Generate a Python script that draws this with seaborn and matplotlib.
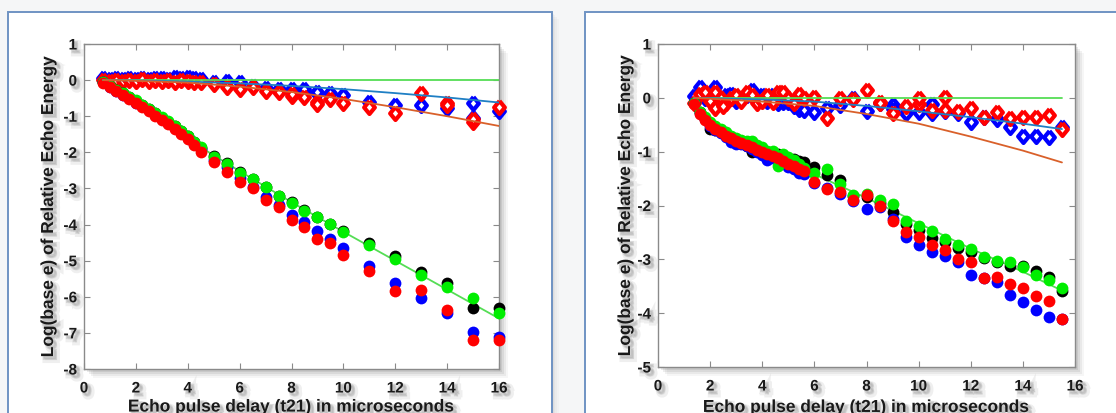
import numpy as np
import pandas as pd
import matplotlib
matplotlib.use("Agg")
import matplotlib.pyplot as plt
import matplotlib.patheffects as pe
from matplotlib.patches import Rectangle
from matplotlib.markers import MarkerStyle
import seaborn as sns

# ---------------- data: left panel ----------------
xL_dense = [0.75, 1.0, 1.25, 1.5, 1.75, 2.0, 2.25, 2.5, 2.75, 3.0, 3.25, 3.5, 3.75, 4.0, 4.25, 4.5]
xL_sparse = [5, 5.5, 6, 6.5, 7, 7.5, 8, 8.5, 9, 9.5, 10, 11, 12, 13, 14, 15, 16]

# decaying echoes (filled circles)
L_black = [-0.05, -0.16, -0.27, -0.37, -0.48, -0.58, -0.69, -0.80, -0.92, -1.04, -1.16, -1.28, -1.42, -1.56, -1.72, -1.88,
           -2.10, -2.30, -2.55, -2.73, -2.95, -3.20, -3.38, -3.60, -3.78, -3.98, -4.18, -4.50, -4.88, -5.31, -5.63, -6.30, -6.30]
L_blue = [-0.06, -0.18, -0.29, -0.40, -0.50, -0.62, -0.73, -0.84, -0.96, -1.08, -1.20, -1.33, -1.46, -1.60, -1.76, -1.92,
          -2.20, -2.40, -2.72, -2.95, -3.23, -3.45, -3.74, -3.92, -4.17, -4.39, -4.64, -5.14, -5.61, -6.03, -6.45, -6.97, -7.10]
L_green = [-0.05, -0.15, -0.26, -0.36, -0.46, -0.56, -0.68, -0.79, -0.90, -1.02, -1.14, -1.26, -1.40, -1.55, -1.70, -1.86,
           -2.12, -2.31, -2.57, -2.75, -2.97, -3.21, -3.40, -3.62, -3.79, -3.99, -4.20, -4.57, -4.96, -5.40, -5.73, -6.03, -6.44]
L_red = [-0.08, -0.20, -0.30, -0.40, -0.52, -0.63, -0.74, -0.86, -0.98, -1.10, -1.22, -1.36, -1.50, -1.64, -1.80, -1.98,
         -2.26, -2.54, -2.82, -3.00, -3.32, -3.51, -3.86, -4.06, -4.40, -4.52, -4.85, -5.28, -5.84, -5.80, -6.37, -7.20, -7.20]

# refocused echoes (diamonds)
L_blue_d = [0.05, 0.03, 0.06, 0.02, 0.05, 0.04, 0.06, 0.03, 0.05, 0.07, 0.04, 0.08, 0.05, 0.10, 0.06, 0.04,
            -0.06, -0.03, -0.06, -0.15, -0.22, -0.24, -0.24, -0.30, -0.36, -0.36, -0.42, -0.60, -0.68, -0.68, -0.78, -0.63, -0.85]
L_red_d = [0.00, -0.02, 0.01, -0.03, 0.00, -0.02, 0.02, -0.03, 0.00, -0.02, 0.01, -0.04, 0.00, -0.03, -0.05, -0.06,
           -0.10, -0.20, -0.25, -0.20, -0.30, -0.33, -0.44, -0.48, -0.60, -0.52, -0.64, -0.74, -0.90, -0.35, -0.62, -1.15, -0.74]
L_blue_d_extra_x = [8.5, 9, 15]
L_blue_d_extra = [-0.25, -0.32, -1.05]
L_red_d_extra_x = [8, 9, 14, 15]
L_red_d_extra = [-0.38, -0.67, -0.70, -1.08]

# fitted curves
L_fit_x = [0.75, 2, 4, 6, 8, 10, 12, 14, 16]
L_fit_flat = [0, 0, 0, 0, 0, 0, 0, 0, 0]
L_fit_blue = [0, -0.01, -0.04, -0.09, -0.16, -0.25, -0.36, -0.48, -0.62]
L_fit_orange = [0, -0.02, -0.07, -0.18, -0.33, -0.52, -0.75, -1.00, -1.27]
L_fit_decay_x = [0.75, 1.5, 2.5, 3.5, 4.5, 6, 8, 10, 12, 14, 16]
L_fit_decay = [-0.05, -0.36, -0.80, -1.30, -1.86, -2.52, -3.38, -4.20, -5.00, -5.80, -6.60]

# ---------------- data: right panel ----------------
xR_dense = [1.4, 1.6, 1.8, 2.0, 2.2, 2.4, 2.6, 2.8, 3.0, 3.2, 3.4, 3.6, 3.8, 4.0, 4.2, 4.4, 4.6, 4.8, 5.0, 5.2, 5.4, 5.6]
xR_sparse = [6, 6.5, 7, 7.5, 8, 8.5, 9, 9.5, 10, 10.5, 11, 11.5, 12, 12.5, 13, 13.5, 14, 14.5, 15, 15.5]

R_black = [-0.10, -0.27, -0.40, -0.58, -0.60, -0.64, -0.68, -0.72, -0.76, -0.82, -0.90, -1.00, -0.98, -1.02, -1.05, -1.06,
           -1.05, -1.10, -1.12, -1.13, -1.18, -1.20,
           -1.28, -1.44, -1.53, -1.82, -1.85, -1.95, -2.12, -2.35, -2.45, -2.60, -2.68, -2.79, -2.87, -2.97, -3.05, -3.12,
           -3.12, -3.22, -3.33, -3.58]
R_blue = [-0.10, -0.28, -0.40, -0.52, -0.60, -0.66, -0.73, -0.82, -0.85, -0.86, -0.90, -0.95, -1.00, -1.06, -1.16, -1.12,
          -1.15, -1.20, -1.28, -1.33, -1.40, -1.42,
          -1.58, -1.68, -1.78, -1.92, -2.07, -2.02, -2.25, -2.59, -2.73, -2.87, -2.93, -3.05, -3.30, -3.34, -3.43, -3.66,
          -3.80, -3.94, -4.07, -4.10]
R_green = [-0.10, -0.26, -0.36, -0.45, -0.52, -0.58, -0.64, -0.70, -0.74, -0.78, -0.80, -0.80, -0.88, -0.92, -0.98, -0.98,
           -1.27, -1.05, -1.10, -1.16, -1.22, -1.30,
           -1.40, -1.33, -1.60, -1.80, -1.79, -1.90, -1.98, -2.28, -2.39, -2.48, -2.62, -2.73, -2.80, -2.96, -3.03, -3.05,
           -3.15, -3.30, -3.38, -3.53]
R_red = [-0.12, -0.30, -0.42, -0.50, -0.57, -0.63, -0.70, -0.74, -0.80, -0.84, -0.88, -0.92, -0.96, -1.00, -1.04, -1.08,
         -1.12, -1.17, -1.22, -1.27, -1.32, -1.36,
         -1.56, -1.70, -1.75, -1.90, -1.81, -2.01, -2.28, -2.49, -2.58, -2.74, -2.82, -2.99, -3.05, -3.35, -3.32, -3.46,
         -3.53, -3.68, -3.77, -4.11]

R_blue_d = [0.03, 0.20, 0.00, 0.05, 0.20, 0.00, 0.05, 0.08, -0.05, 0.00, 0.05, 0.15, -0.05, 0.05, -0.05, 0.05,
            -0.10, -0.08, -0.08, -0.15, -0.20, -0.22,
            -0.27, -0.19, -0.13, 0.00, -0.24, -0.10, -0.13, -0.29, -0.27, -0.12, -0.25, -0.29, -0.44, -0.35, -0.40, -0.55,
            -0.71, -0.71, -0.72, -0.55]
R_red_d = [-0.10, 0.08, 0.10, -0.05, 0.10, 0.00, -0.10, 0.00, 0.05, -0.05, 0.10, 0.05, -0.10, -0.05, 0.05, -0.08,
           0.10, 0.10, 0.00, -0.10, 0.08, 0.00,
           0.01, -0.38, 0.00, -0.02, 0.14, -0.07, -0.29, -0.16, -0.11, -0.22, 0.01, -0.24, -0.19, -0.35, -0.26, -0.38,
           -0.35, -0.35, -0.32, -0.57]
R_blue_d_extra_x = [9, 10.5]
R_blue_d_extra = [-0.20, -0.29]
R_red_d_extra_x = [2.2, 2.5, 8.5, 10, 11]
R_red_d_extra = [-0.18, -0.15, -0.10, 0.00, -0.22]

R_fit_x = [1.4, 4, 6, 8, 10, 12, 14, 15.5]
R_fit_flat = [0, 0, 0, 0, 0, 0, 0, 0]
R_fit_blue = [0, -0.03, -0.07, -0.15, -0.25, -0.36, -0.48, -0.58]
R_fit_orange = [0, -0.07, -0.15, -0.30, -0.48, -0.72, -0.98, -1.20]
R_fit_decay_x = [1.4, 2, 3, 4, 5, 6, 8, 10, 12, 14, 15.5]
R_fit_decay = [-0.12, -0.50, -0.80, -1.00, -1.20, -1.42, -1.86, -2.33, -2.80, -3.23, -3.58]

x_ticks = [0, 2, 4, 6, 8, 10, 12, 14, 16]
L_yticks = [1, 0, -1, -2, -3, -4, -5, -6, -7, -8]
R_yticks = [1, 0, -1, -2, -3, -4, -5]

XLABEL = "Echo pulse delay (t21) in microseconds"
YLABEL = "Log(base e) of Relative Echo Energy"

# ---------------- style ----------------
sns.set_theme(style="white")
plt.rcParams['font.family'] = ['Liberation Sans', 'DejaVu Sans']
plt.rcParams['axes.unicode_minus'] = False

C_BLUE, C_RED, C_GREEN, C_BLACK = "#0000ff", "#ff0000", "#00ee00", "#000000"
C_FIT_GREEN, C_FIT_BLUE, C_FIT_ORANGE = "#55dd55", "#1f7fc4", "#d9602a"

# slightly tall diamond marker
DIAMOND = MarkerStyle(np.array([[0.0, 1.0], [0.82, 0.0], [0.0, -1.0], [-0.82, 0.0], [0.0, 1.0]]))

W, H = 1116, 414
fig = plt.figure(figsize=(W / 100, H / 100), dpi=100, facecolor="#f5f6f7")


def fig_rect(x0, y0, x1, y1, **kw):
    """Rectangle given in pixel coordinates measured from the top-left corner."""
    r = Rectangle((x0 / W, 1 - y1 / H), (x1 - x0) / W, (y1 - y0) / H,
                  transform=fig.transFigure, **kw)
    fig.patches.append(r)
    return r


# slide-style panels with soft shadows
for (x0, x1) in [(8, 552), (585, 1140)]:
    for off, a in [(7, 0.04), (5, 0.05), (3, 0.06), (1.5, 0.07)]:
        fig_rect(x0 + off, 13 + off, x1 + off, 440, facecolor="#808080", edgecolor="none",
                 alpha=a, zorder=-20)
    fig_rect(x0, 13, x1, 440, facecolor="white", edgecolor="#6f93c3", linewidth=1.4, zorder=-10)

text_shadow = [
    pe.PathPatchEffect(offset=(3, -3), facecolor="#b8b8b8", edgecolor="#b8b8b8", linewidth=4.0, alpha=0.22),
    pe.PathPatchEffect(offset=(2, -2), facecolor="#9a9a9a", edgecolor="#9a9a9a", linewidth=1.5, alpha=0.30),
    pe.Normal(),
]


def make_axes(px_box, ylim, yticks, ylab_x, xlab_y):
    x0, y0, x1, y1 = px_box
    # drop shadow behind the plotting box
    for off, a in [(9, 0.05), (7, 0.08), (5, 0.10), (3, 0.12)]:
        fig_rect(x0 + off, y0 + off, x1 + off, y1 + off, facecolor="#555555", edgecolor="none",
                 alpha=a, zorder=-5)
    ax = fig.add_axes([x0 / W, 1 - y1 / H, (x1 - x0) / W, (y1 - y0) / H])
    ax.set_facecolor("white")
    ax.set_xlim(0, 16)
    ax.set_ylim(*ylim)
    ax.set_xticks(x_ticks)
    ax.set_yticks(yticks)
    for s in ax.spines.values():
        s.set_visible(True)
        s.set_color("#8a8a8a")
        s.set_linewidth(1.0)
    ax.tick_params(direction="in", length=4, width=0.8, color="#8a8a8a",
                   top=True, right=True, bottom=True, left=True,
                   labelsize=11, labelcolor="#1a1a1a")
    ax.tick_params(axis="y", pad=5)
    ax.tick_params(axis="x", pad=9)
    for lab in ax.get_xticklabels() + ax.get_yticklabels():
        lab.set_fontweight("bold")
        lab.set_path_effects(text_shadow)
    ax.set_xlabel(XLABEL, fontsize=12.5, fontweight="bold", color="#1a1a1a",
                  path_effects=text_shadow)
    ax.set_ylabel(YLABEL, fontsize=12.5, fontweight="bold", color="#1a1a1a",
                  path_effects=text_shadow)
    ax.yaxis.set_label_coords(ylab_x, 0.5)
    ax.xaxis.set_label_coords(0.5, xlab_y)
    ax.grid(False)
    return ax


def dots(ax, x, y, color):
    sns.scatterplot(x=x, y=y, color=color, marker="o", s=72, linewidth=0,
                    ax=ax, clip_on=False, zorder=3)


def diamonds(ax, x, y, color):
    sns.scatterplot(x=x, y=y, marker=DIAMOND, s=88, facecolor="white", edgecolor=color,
                    linewidth=3.0, ax=ax, clip_on=False, zorder=3)


def fit(ax, x, y, color, z=5):
    sns.lineplot(x=x, y=y, color=color, linewidth=1.3, sort=False, estimator=None,
                 ax=ax, zorder=z)


def draw_panel(ax, xd, xs, black, blue, green, red, blue_d, red_d,
               bex, bey, rex, rey, fx, flat, fblue, forange, fdx, fdecay):
    xa = list(xd) + list(xs)
    fit(ax, fdx, fdecay, C_FIT_GREEN, z=2)
    diamonds(ax, xa, blue_d, C_BLUE)
    diamonds(ax, bex, bey, C_BLUE)
    diamonds(ax, xa, red_d, C_RED)
    diamonds(ax, rex, rey, C_RED)
    dots(ax, xa, black, C_BLACK)
    dots(ax, xa, blue, C_BLUE)
    dots(ax, xa, green, C_GREEN)
    dots(ax, xa, red, C_RED)
    fit(ax, fx, flat, C_FIT_GREEN)
    fit(ax, fx, fblue, C_FIT_BLUE)
    fit(ax, fx, forange, C_FIT_ORANGE)
    ax.set_xlabel(XLABEL)
    ax.set_ylabel(YLABEL)


axL = make_axes((84, 45, 499, 370), (-8, 1), L_yticks, -0.0675, -0.094)
draw_panel(axL, xL_dense, xL_sparse, L_black, L_blue, L_green, L_red, L_blue_d, L_red_d,
           L_blue_d_extra_x, L_blue_d_extra, L_red_d_extra_x, L_red_d_extra,
           L_fit_x, L_fit_flat, L_fit_blue, L_fit_orange, L_fit_decay_x, L_fit_decay)

axR = make_axes((658, 45, 1075, 368), (-5, 1), R_yticks, -0.06, -0.102)
draw_panel(axR, xR_dense, xR_sparse, R_black, R_blue, R_green, R_red, R_blue_d, R_red_d,
           R_blue_d_extra_x, R_blue_d_extra, R_red_d_extra_x, R_red_d_extra,
           R_fit_x, R_fit_flat, R_fit_blue, R_fit_orange, R_fit_decay_x, R_fit_decay)

fig.savefig("out.png", dpi=100, facecolor=fig.get_facecolor())
